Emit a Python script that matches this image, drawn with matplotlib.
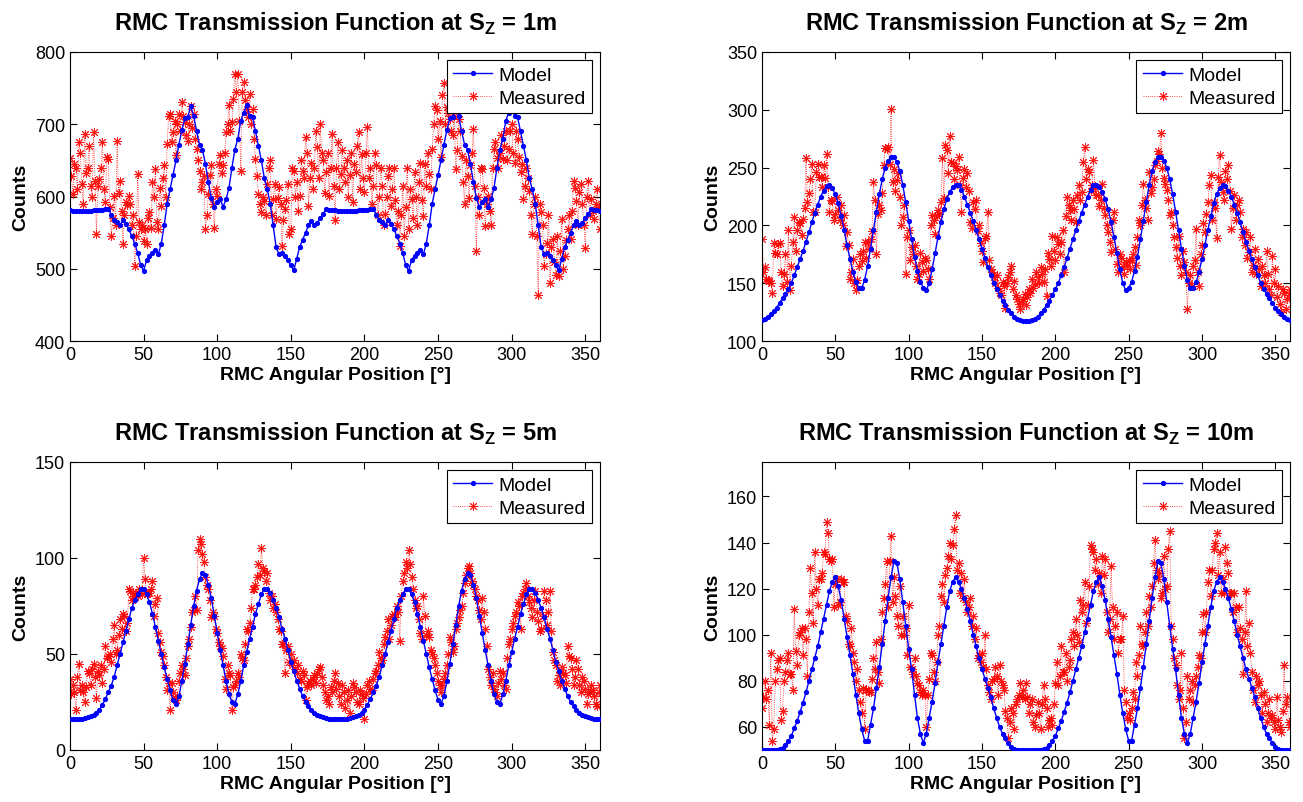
import numpy as np
import matplotlib
matplotlib.use("Agg")
import matplotlib.pyplot as plt

plt.rcParams["font.family"] = ["Liberation Sans", "DejaVu Sans"]
plt.rcParams["mathtext.fontset"] = "custom"
plt.rcParams["mathtext.rm"] = "Liberation Sans"
plt.rcParams["mathtext.bf"] = "Liberation Sans:bold"

# RMC angular position: model every 2 degrees, measurements every degree
model_angles = np.arange(0, 361, 2)
measured_angles = np.arange(0, 361, 1)

# Source distance 1 m
model_1m = [581, 580, 580, 580, 580, 580, 580, 580, 581, 581,
            582, 582, 583, 583, 575, 567, 565, 560, 568, 562,
            555, 545, 535, 522, 505, 497, 512, 518, 522, 526,
            520, 535, 560, 590, 610, 630, 650, 672, 692, 708,
            710, 725, 712, 690, 672, 665, 645, 620, 598, 585,
            592, 596, 586, 596, 612, 640, 665, 680, 705, 716,
            727, 712, 710, 690, 670, 650, 625, 610, 590, 560,
            530, 520, 522, 518, 512, 505, 498, 514, 530, 540,
            550, 560, 566, 560, 564, 570, 576, 583, 582, 581,
            581, 580, 580, 580, 580, 580, 580, 580, 581, 581,
            582, 582, 583, 583, 575, 567, 565, 560, 568, 562,
            555, 545, 535, 522, 505, 497, 512, 518, 522, 526,
            520, 535, 560, 590, 610, 630, 650, 672, 692, 708,
            710, 725, 712, 690, 672, 665, 645, 620, 598, 585,
            592, 596, 586, 596, 612, 640, 665, 680, 705, 716,
            727, 712, 710, 690, 670, 650, 625, 610, 590, 560,
            530, 520, 522, 518, 512, 505, 498, 514, 530, 540,
            550, 560, 566, 560, 564, 570, 576, 583, 582, 581,
            580]
measured_1m = [654, 628, 603, 645, 640, 610, 675, 660, 617, 590, 687, 632, 640, 670, 615, 600, 689, 622, 548, 615,
               624, 640, 675, 610, 592, 655, 652, 585, 546, 570, 601, 560, 677, 605, 622, 580, 534, 575, 592, 588,
               601, 590, 560, 575, 504, 545, 631, 565, 555, 560, 539, 555, 534, 570, 578, 556, 620, 600, 638, 565,
               555, 612, 587, 625, 643, 600, 673, 712, 714, 675, 689, 705, 657, 700, 714, 690, 731, 712, 703, 685,
               677, 700, 725, 695, 714, 680, 666, 650, 635, 610, 620, 628, 555, 575, 604, 630, 643, 590, 557, 610,
               601, 645, 657, 632, 643, 660, 689, 700, 726, 690, 703, 735, 770, 745, 770, 705, 636, 745, 758, 733,
               721, 710, 742, 700, 721, 680, 652, 628, 604, 590, 578, 600, 594, 575, 617, 640, 650, 575, 597, 618,
               569, 598, 613, 590, 532, 568, 583, 595, 617, 548, 555, 640, 636, 600, 620, 580, 601, 650, 636, 625,
               682, 660, 587, 625, 647, 610, 640, 690, 668, 625, 700, 660, 650, 605, 634, 660, 601, 640, 687, 615,
               567, 640, 675, 610, 631, 665, 640, 620, 650, 600, 630, 660, 592, 645, 634, 670, 689, 610, 659, 625,
               606, 660, 696, 625, 640, 590, 615, 660, 643, 575, 600, 640, 615, 560, 576, 600, 629, 640, 587, 610,
               640, 595, 560, 580, 532, 575, 615, 545, 585, 640, 555, 610, 597, 570, 634, 600, 560, 620, 647, 595,
               573, 645, 615, 660, 631, 610, 666, 700, 725, 720, 680, 705, 655, 740, 757, 700, 724, 715, 707, 690,
               685, 712, 638, 665, 707, 690, 656, 620, 589, 650, 629, 598, 643, 660, 694, 615, 525, 600, 575, 640,
               638, 612, 559, 590, 601, 580, 560, 640, 666, 675, 654, 640, 660, 685, 652, 670, 690, 650, 666, 690,
               700, 660, 647, 690, 680, 655, 634, 645, 597, 615, 640, 625, 608, 575, 548, 590, 600, 545, 464, 590,
               578, 560, 504, 520, 536, 575, 480, 530, 541, 510, 492, 545, 490, 525, 569, 500, 518, 540, 555, 575,
               541, 580, 622, 612, 594, 560, 606, 618, 590, 560, 529, 600, 622, 575, 597, 580, 569, 590, 610, 585,
               555]

# Source distance 2 m
model_2m = [118, 119, 121, 123, 126, 129, 133, 137, 141, 145,
            150, 157, 164, 171, 178, 186, 194, 203, 211, 218,
            225, 230, 234, 235, 232, 227, 219, 208, 196, 183,
            171, 160, 151, 146, 146, 153, 165, 180, 196, 212,
            227, 240, 250, 256, 259, 259, 255, 247, 235, 220,
            204, 188, 173, 161, 151, 146, 144, 150, 162, 176,
            190, 203, 214, 223, 229, 233, 235, 235, 231, 225,
            218, 211, 204, 196, 188, 180, 172, 164, 157, 150,
            145, 140, 135, 131, 127, 124, 121, 119, 118, 117,
            117, 117, 118, 119, 121, 124, 127, 131, 135, 140,
            145, 150, 157, 164, 172, 180, 188, 196, 204, 211,
            218, 225, 231, 235, 235, 233, 229, 223, 214, 203,
            190, 176, 162, 150, 144, 146, 151, 161, 173, 188,
            204, 220, 235, 247, 255, 259, 259, 256, 250, 240,
            227, 212, 196, 180, 165, 153, 146, 146, 151, 160,
            171, 183, 196, 208, 219, 227, 232, 235, 234, 230,
            225, 218, 211, 203, 194, 186, 178, 171, 164, 157,
            150, 145, 141, 137, 133, 129, 126, 123, 121, 119,
            118]
measured_2m = [188, 160, 164, 154, 153, 152, 150, 142, 185, 176, 175, 184, 185, 160, 148, 158, 175, 151, 196, 144,
               165, 186, 207, 178, 196, 203, 202, 192, 206, 215, 258, 220, 228, 240, 253, 212, 212, 246, 253, 242,
               242, 233, 252, 241, 262, 233, 212, 222, 221, 205, 210, 225, 213, 205, 218, 200, 209, 182, 194, 183,
               154, 160, 171, 150, 144, 153, 165, 175, 169, 178, 186, 172, 186, 180, 188, 195, 238, 222, 175, 210,
               218, 213, 228, 252, 267, 266, 268, 253, 301, 238, 249, 230, 239, 245, 225, 200, 207, 218, 158, 190,
               196, 170, 181, 175, 183, 165, 154, 158, 176, 168, 161, 172, 170, 162, 154, 200, 209, 205, 193, 208,
               213, 210, 220, 258, 224, 270, 265, 245, 277, 255, 254, 240, 251, 248, 259, 235, 212, 241, 249, 233,
               245, 230, 203, 198, 220, 214, 222, 195, 200, 185, 178, 168, 189, 191, 212, 170, 162, 160, 155, 150,
               157, 146, 142, 140, 151, 148, 129, 150, 155, 160, 165, 145, 152, 140, 136, 132, 128, 135, 136, 141,
               131, 138, 145, 142, 154, 146, 149, 160, 155, 150, 164, 158, 151, 162, 139, 176, 171, 165, 191, 178,
               170, 190, 184, 175, 186, 196, 160, 208, 225, 218, 213, 205, 222, 214, 203, 226, 235, 222, 229, 255,
               268, 240, 249, 246, 230, 235, 257, 232, 226, 226, 217, 222, 236, 215, 209, 200, 194, 186, 177, 205,
               212, 180, 167, 160, 175, 172, 165, 158, 168, 165, 170, 162, 170, 175, 181, 166, 190, 205, 200, 218,
               236, 222, 215, 205, 246, 228, 233, 240, 252, 256, 264, 262, 280, 250, 241, 236, 231, 222, 209, 212,
               200, 190, 181, 172, 191, 165, 157, 178, 168, 160, 128, 150, 157, 148, 165, 170, 197, 160, 148, 175,
               183, 202, 194, 210, 220, 235, 244, 205, 220, 215, 189, 242, 261, 238, 229, 222, 247, 240, 252, 230,
               197, 215, 226, 205, 218, 222, 212, 190, 197, 183, 194, 172, 177, 190, 160, 166, 180, 158, 171, 162,
               148, 165, 157, 150, 178, 158, 145, 140, 174, 150, 162, 138, 148, 132, 125, 145, 142, 128, 136, 140,
               145]

# Source distance 5 m
model_5m = [16, 16, 16, 16, 16, 16.5, 17, 17.5, 18, 19,
            21, 23.5, 26.5, 30, 33.5, 38, 44, 50, 56, 62,
            68, 74, 78, 81, 84, 84, 81, 77, 71, 64,
            57, 50, 43, 37, 31, 26, 24, 28, 36, 45,
            55, 65, 75, 83, 89, 92, 91, 86, 79, 70,
            61, 52, 44, 36, 29, 25, 24, 29, 36, 44,
            51, 58, 64, 71, 76, 81, 84, 84, 82, 78,
            74, 69, 63, 58, 52, 46, 41, 36, 32, 28,
            25, 23, 21, 19.5, 18, 17.5, 17, 16.5, 16, 16,
            16, 16, 16, 16, 16, 16.5, 17, 17.5, 18, 19,
            21, 23.5, 26.5, 30, 33.5, 38, 44, 50, 56, 62,
            68, 74, 78, 81, 84, 84, 81, 77, 71, 64,
            57, 50, 43, 37, 31, 26, 24, 28, 36, 45,
            55, 65, 75, 83, 89, 92, 91, 86, 79, 70,
            61, 52, 44, 36, 29, 25, 24, 29, 36, 44,
            51, 58, 64, 71, 76, 81, 84, 84, 82, 78,
            74, 69, 63, 58, 52, 46, 41, 36, 32, 28,
            25, 23, 21, 19.5, 18, 17.5, 17, 16.5, 16, 16,
            16]
measured_5m = [37, 29, 34, 30, 21, 38, 45, 31, 34, 30, 25, 33, 41, 40, 34, 42, 45, 38, 27, 41,
               39, 44, 35, 42, 54, 48, 49, 50, 46, 58, 65, 50, 52, 60, 68, 63, 71, 70, 62, 66,
               84, 83, 78, 80, 81, 82, 80, 84, 83, 81, 100, 89, 81, 82, 82, 84, 88, 70, 76, 79,
               61, 56, 51, 49, 44, 38, 31, 35, 21, 35, 30, 27, 26, 28, 36, 40, 44, 42, 39, 48,
               54, 58, 64, 72, 73, 80, 73, 104, 110, 107, 102, 98, 90, 86, 84, 78, 69, 72, 70, 63,
               61, 56, 54, 53, 49, 37, 32, 44, 40, 39, 21, 33, 34, 36, 40, 38, 50, 48, 47, 55,
               63, 62, 66, 74, 84, 84, 86, 90, 97, 91, 105, 95, 93, 88, 92, 82, 78, 80, 74, 76,
               72, 68, 63, 62, 55, 55, 40, 52, 54, 46, 50, 44, 47, 42, 40, 44, 37, 36, 41, 39,
               26, 33, 35, 36, 34, 37, 39, 35, 40, 42, 43, 38, 34, 30, 26, 28, 24, 33, 30, 36,
               40, 32, 35, 28, 24, 34, 30, 22, 26, 31, 19, 28, 35, 33, 30, 25, 24, 31, 29, 27,
               16, 29, 34, 36, 32, 31, 37, 40, 41, 44, 51, 48, 47, 55, 59, 62, 68, 58, 65, 70,
               71, 69, 75, 72, 57, 80, 88, 92, 98, 95, 104, 97, 90, 84, 78, 74, 75, 68, 61, 58,
               80, 70, 60, 62, 59, 52, 50, 48, 44, 40, 36, 34, 30, 34, 37, 40, 44, 50, 59, 56,
               51, 54, 63, 66, 69, 73, 75, 82, 87, 91, 95, 96, 92, 88, 86, 84, 80, 78, 73, 68,
               79, 72, 63, 54, 42, 38, 34, 40, 32, 30, 28, 35, 41, 37, 40, 34, 32, 48, 55, 58,
               63, 66, 70, 72, 77, 75, 63, 80, 82, 84, 87, 80, 77, 74, 69, 78, 83, 72, 67, 62,
               63, 70, 83, 78, 65, 72, 83, 62, 51, 47, 44, 36, 39, 34, 43, 40, 39, 35, 54, 49,
               48, 42, 34, 38, 47, 42, 34, 30, 38, 36, 32, 24, 29, 30, 34, 31, 28, 24, 23, 30,
               34]

# Source distance 10 m
model_10m = [50, 50, 50, 50, 50, 50, 50.3, 51, 52, 54,
             56, 59.5, 62.5, 66.5, 70.5, 75, 80, 85, 90, 95,
             101, 107, 113, 119, 123, 125, 121, 115, 107, 99,
             91, 83, 74, 66, 59, 54, 54, 61, 68, 77,
             86, 96, 106, 116, 125, 132, 131, 124, 114, 104,
             94, 85, 74, 64, 57, 53, 57, 64, 71, 79,
             88, 96, 104, 112, 119, 123, 125, 123, 120, 116,
             111, 106, 100, 95, 90, 85, 81, 77, 73, 68,
             64, 60, 57, 55, 53, 51.5, 50.5, 50, 50, 50,
             50, 50, 50, 50, 50, 50, 50.3, 51, 52, 54,
             56, 59.5, 62.5, 66.5, 70.5, 75, 80, 85, 90, 95,
             101, 107, 113, 119, 123, 125, 121, 115, 107, 99,
             91, 83, 74, 66, 59, 54, 54, 61, 68, 77,
             86, 96, 106, 116, 125, 132, 131, 124, 114, 104,
             94, 85, 74, 64, 57, 53, 57, 64, 71, 79,
             88, 96, 104, 112, 119, 123, 125, 123, 120, 116,
             111, 106, 100, 95, 90, 85, 81, 77, 73, 68,
             64, 60, 57, 55, 53, 51.5, 50.5, 50, 50, 50,
             50]
measured_10m = [68, 73, 80, 72, 76, 61, 92, 54, 59, 80, 85, 89, 90, 63, 67, 80, 84, 89, 92, 83,
                83, 76, 111, 93, 87, 100, 101, 103, 91, 103, 98, 82, 110, 129, 118, 105, 136, 120, 113, 124,
                124, 127, 136, 135, 149, 144, 133, 132, 133, 112, 122, 124, 113, 114, 124, 123, 123, 108, 106, 96,
                95, 103, 92, 88, 80, 85, 76, 71, 66, 77, 59, 76, 76, 75, 75, 81, 90, 85, 97, 84,
                79, 98, 110, 116, 122, 132, 112, 132, 143, 114, 125, 117, 108, 104, 121, 100, 108, 100, 103, 91,
                113, 86, 85, 83, 90, 82, 79, 78, 75, 74, 76, 74, 60, 74, 81, 92, 91, 84, 80, 88,
                100, 104, 117, 122, 114, 126, 129, 134, 140, 133, 139, 146, 152, 128, 131, 118, 127, 116, 124, 114,
                110, 112, 116, 104, 108, 98, 103, 90, 91, 88, 92, 86, 100, 85, 78, 75, 72, 80, 81, 86,
                82, 74, 87, 80, 78, 76, 67, 64, 55, 62, 68, 66, 59, 70, 72, 74, 79, 73, 76, 72,
                79, 73, 66, 70, 72, 62, 60, 65, 71, 66, 59, 70, 78, 72, 68, 60, 63, 64, 61, 70,
                79, 88, 78, 82, 95, 84, 84, 92, 80, 86, 89, 98, 101, 95, 107, 100, 97, 115, 110, 113,
                123, 105, 113, 121, 139, 137, 136, 128, 133, 122, 127, 118, 134, 126, 133, 110, 101, 107, 130, 112,
                98, 104, 110, 92, 98, 98, 108, 76, 71, 64, 66, 63, 68, 75, 72, 88, 82, 91, 104, 96,
                95, 101, 110, 104, 117, 112, 121, 131, 141, 128, 124, 127, 116, 118, 134, 120, 121, 137, 145, 104,
                98, 90, 87, 78, 72, 76, 92, 68, 55, 62, 82, 72, 76, 80, 71, 78, 82, 86, 91, 90,
                101, 109, 101, 110, 123, 128, 117, 128, 137, 140, 144, 126, 136, 118, 124, 118, 138, 131, 127, 118,
                118, 110, 118, 112, 101, 112, 103, 98, 83, 101, 119, 95, 105, 92, 84, 76, 71, 82, 78, 80,
                74, 66, 75, 70, 62, 66, 72, 64, 65, 62, 59, 73, 63, 60, 58, 67, 87, 70, 73, 62,
                60]

panels = [
    ("1m", model_1m, measured_1m, (400, 800), np.arange(400, 801, 100)),
    ("2m", model_2m, measured_2m, (100, 350), np.arange(100, 351, 50)),
    ("5m", model_5m, measured_5m, (0, 150), np.arange(0, 151, 50)),
    ("10m", model_10m, measured_10m, (50, 175), np.arange(60, 161, 20)),
]

# axes boxes in figure fractions [left, bottom, width, height]
boxes = [
    [0.0537, 0.574, 0.4068, 0.360],
    [0.5848, 0.574, 0.4052, 0.360],
    [0.0537, 0.0648, 0.4068, 0.3587],
    [0.5848, 0.0648, 0.4052, 0.3587],
]

fig = plt.figure(figsize=(13.03, 8.03), dpi=100)

for (dist, model, measured, ylim, yticks), box in zip(panels, boxes):
    ax = fig.add_axes(box)
    ax.plot(model_angles, model, color="blue", linestyle="-", marker=".",
            markersize=5.5, linewidth=1.0, label="Model", zorder=3)
    ax.plot(measured_angles, measured, color="red", linestyle=":",
            marker=(8, 2, 0), markersize=6.5, markeredgewidth=0.7,
            linewidth=0.6, alpha=0.9, label="Measured", zorder=2)
    ax.set_xlim(0, 360)
    ax.set_ylim(*ylim)
    ax.set_xticks(np.arange(0, 351, 50))
    ax.set_yticks(yticks)
    ax.tick_params(direction="in", top=True, right=True, length=5,
                   width=0.8, labelsize=13)
    for spine in ax.spines.values():
        spine.set_linewidth(0.8)
    ax.set_title(r"RMC Transmission Function at S$_\mathbf{Z}$ = " + dist,
                 fontsize=17, fontweight="bold", pad=16)
    ax.set_xlabel("RMC Angular Position [°]", fontsize=14, fontweight="bold",
                  labelpad=2)
    ax.set_ylabel("Counts", fontsize=14, fontweight="bold", labelpad=4)
    leg = ax.legend(loc="upper right", fontsize=14, fancybox=False,
                    edgecolor="black", framealpha=1, borderpad=0.35,
                    labelspacing=0.25, handlelength=2.0, handletextpad=0.3,
                    borderaxespad=0.4)
    leg.get_frame().set_linewidth(0.8)
    leg.set_zorder(5)

fig.savefig("out.png", dpi=100)
